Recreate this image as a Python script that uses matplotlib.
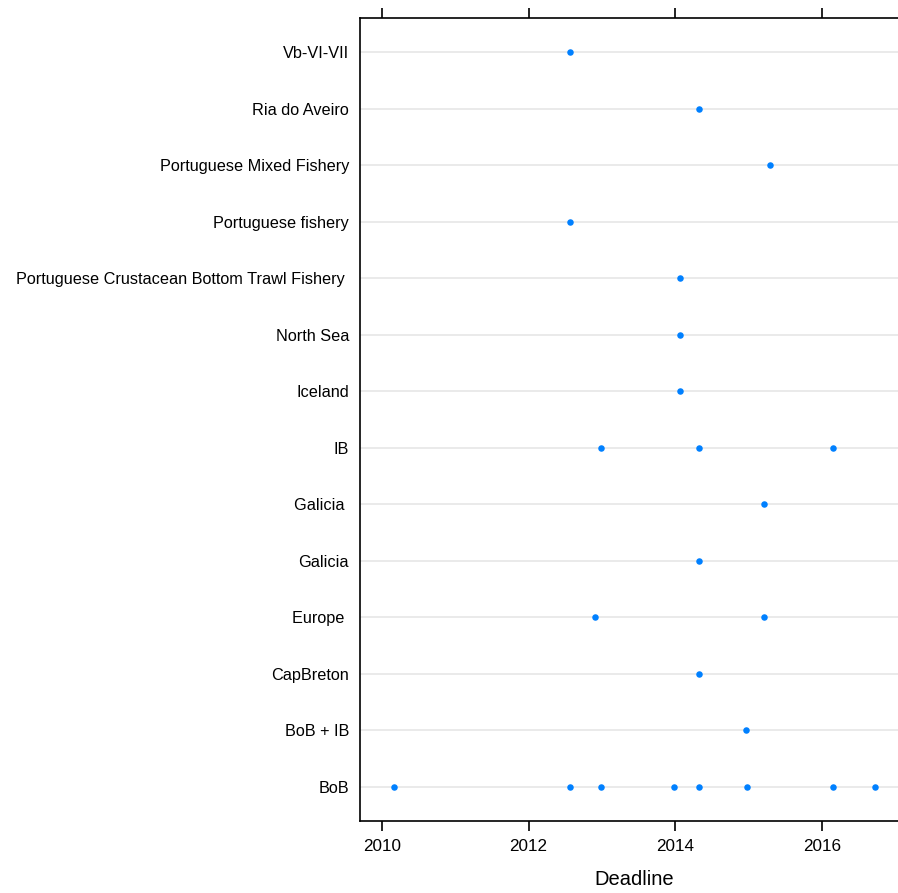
"""Dot plot of deadlines per region / fishery."""

import matplotlib
matplotlib.use("Agg")
import matplotlib.pyplot as plt

# Rows from bottom to top
REGIONS = [
    "BoB",
    "BoB + IB",
    "CapBreton",
    "Europe ",
    "Galicia",
    "Galicia ",
    "IB",
    "Iceland",
    "North Sea",
    "Portuguese Crustacean Bottom Trawl Fishery ",
    "Portuguese fishery",
    "Portuguese Mixed Fishery",
    "Ria do Aveiro",
    "Vb-VI-VII",
]

# Deadlines (decimal years) for each row
DEADLINES = [
    [2010.16, 2012.57, 2012.99, 2013.99, 2014.32, 2014.98, 2016.15, 2016.73],
    [2014.97],
    [2014.32],
    [2012.90, 2015.21],
    [2014.32],
    [2015.21],
    [2012.99, 2014.32, 2016.15],
    [2014.07],
    [2014.07],
    [2014.07],
    [2012.57],
    [2015.29],
    [2014.32],
    [2012.57],
]

XTICKS = [2010, 2012, 2014, 2016]

W, H = 898, 893
fig = plt.figure(figsize=(W / 100, H / 100), dpi=100)
ax = fig.add_axes([360 / W, 72.3 / H, 549 / W, 802.4 / H])

font = "Liberation Sans"
for i, (name, vals) in enumerate(zip(REGIONS, DEADLINES), start=1):
    ax.axhline(i, color="#e6e6e6", lw=1.2, zorder=1)
    ax.scatter(vals, [i] * len(vals), s=22, color="#0080ff", zorder=3,
               linewidths=0)

ax.set_xlim(2009.70, 2017.19)
ax.set_ylim(0.4, len(REGIONS) + 0.6)

ax.set_yticks(range(1, len(REGIONS) + 1))
ax.set_yticklabels(REGIONS, fontsize=11.7, family=font)
ax.tick_params(axis="y", length=0, pad=8)

ax.set_xticks(XTICKS)
ax.set_xticklabels([str(t) for t in XTICKS], fontsize=12.3, family=font)
ax.tick_params(axis="x", direction="out", length=7.5, width=1.2,
               top=True, bottom=True, pad=6)

for side in ["left", "bottom", "top", "right"]:
    ax.spines[side].set_linewidth(1.2)

ax.set_xlabel("Deadline", fontsize=14.5, family=font, labelpad=11)

fig.savefig("out.png", dpi=100)
